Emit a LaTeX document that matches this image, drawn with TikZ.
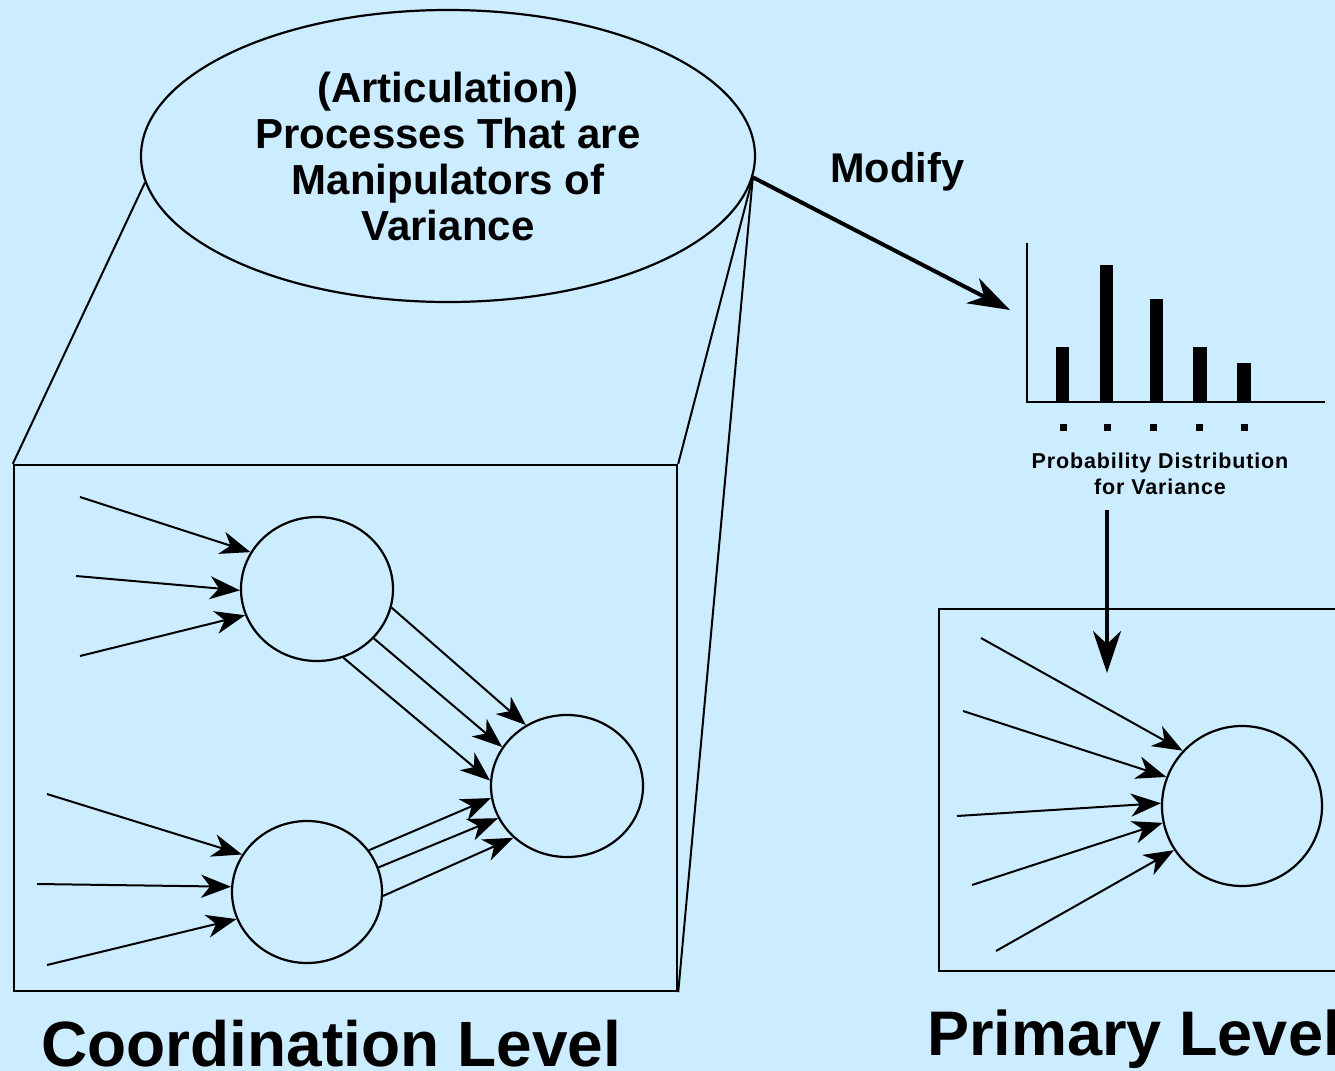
\documentclass[tikz,border=0pt]{standalone}
\usepackage{fontspec}
\setmainfont{Liberation Sans}
\usetikzlibrary{arrows.meta,shapes.geometric}
\definecolor{bgblue}{RGB}{204,236,255}

\begin{document}
\begin{tikzpicture}[x=0.5pt,y=-0.5pt,
  thinline/.style={line width=1pt},
  tipline/.style={line width=1pt,-{Stealth[length=15pt,width=11.5pt,inset=4.5pt]}},
  bigarrow/.style={line width=2pt,-{Stealth[length=21pt,width=14pt,inset=6.5pt]}},
  unit/.style={draw, ellipse, line width=1.1pt, inner sep=0pt,
    minimum width=76pt, minimum height=72pt},
  levelbox/.style={draw, rectangle, line width=1.2pt, inner sep=0pt},
  label/.style={inner sep=0pt, font=\bfseries}
]
% canvas
\useasboundingbox (0,0) rectangle (1335,1071);
\fill[bgblue] (0,0) rectangle (1335,1071);

% articulation processes
\node[draw, ellipse, line width=1.1pt, inner sep=0pt,
      minimum width=307pt, minimum height=146pt, align=center,
      font=\fontsize{21pt}{23pt}\selectfont\bfseries] (E) at (448,156)
  {(Articulation)\\Processes That are\\Manipulators of\\Variance};

% coordination level
\node[levelbox, minimum width=331.5pt, minimum height=263pt] (cbox) at (345.5,728) {};
\node[unit] (c1) at (317,589) {};
\node[unit, minimum width=76pt, minimum height=71pt] (c2) at (567,786) {};
\node[unit, minimum width=75pt, minimum height=71pt] (c3) at (307,892) {};

\draw[thinline] (E.185) -- (cbox.north west);
\draw[thinline] (E.-4) -- (cbox.north east);
\draw[thinline] (E.-4) -- (cbox.south east);

% inputs of the upper unit
\coordinate (a1) at (80,497);
\coordinate (a2) at (76,576);
\coordinate (a3) at (80,656);
\draw[tipline] (a1) -- (c1.151);
\draw[tipline] (a2) -- (c1.181);
\draw[tipline] (a3) -- (c1.200);

% inputs of the lower unit
\coordinate (b1) at (47,794);
\coordinate (b2) at (37,884);
\coordinate (b3) at (47,965);
\draw[tipline] (b1) -- (c3.150);
\draw[tipline] (b2) -- (c3.176);
\draw[tipline] (b3) -- (c3.201);

% upper unit to output unit
\draw[tipline] (c1.-14) -- (c2.124);
\draw[tipline] (c1.-41) -- (c2.149);
\draw[tipline] (c1.-69) -- (c2.176);

% lower unit to output unit
\draw[tipline] (c3.34) -- (c2.189);
\draw[tipline] (c3.19) -- (c2.205);
\draw[tipline] (c3.-3) -- (c2.224);

\node[label, anchor=base west, font=\fontsize{32pt}{36pt}\selectfont\bfseries]
  (coord) at (41,1066) {Coordination Level};

% modify arrow
\node[label, anchor=base west, font=\fontsize{20.75pt}{23pt}\selectfont\bfseries]
  (mod) at (830,182) {Modify};
\coordinate (histin) at (1010,310);
\draw[bigarrow] (E.-4) -- (histin);

% probability distribution
\draw[line width=0.8pt] (1027,243) -- (1027,402) -- (1325,402);
\foreach \xl/\xr/\top in {1056/1069/347, 1100/1113/265, 1150/1163/299, 1193/1207/347, 1237/1251/363}
  \fill[black] (\xl,\top) rectangle (\xr,402);
\foreach \xc in {1063,1107,1153,1199,1244}
  \fill[black] (\xc-3.5,424) rectangle (\xc+3.5,431);
\node[label, anchor=base, font=\fontsize{10.75pt}{12.5pt}\selectfont\bfseries\addfontfeature{LetterSpace=4}]
  (pd1) at (1160,468) {Probability Distribution};
\node[label, anchor=base, font=\fontsize{10.75pt}{12.5pt}\selectfont\bfseries\addfontfeature{LetterSpace=4}]
  (pd2) at (1160,494) {for Variance};

% primary level
\node[levelbox, minimum width=206pt, minimum height=181pt] (pbox) at (1145,790) {};
\node[unit, minimum width=80pt, minimum height=80pt] (p) at (1242,806) {};
\coordinate (pdtail) at (1107,510);
\coordinate (pdtip) at (1107,673);
\draw[bigarrow] (pdtail) -- (pdtip);

\coordinate (r1) at (981,638);
\coordinate (r2) at (963,711);
\coordinate (r3) at (957,816);
\coordinate (r4) at (972,885);
\coordinate (r5) at (996,951);
\draw[tipline] (r1) -- (p.137);
\draw[tipline] (r2) -- (p.159);
\draw[tipline] (r3) -- (p.178);
\draw[tipline] (r4) -- (p.192);
\draw[tipline] (r5) -- (p.213);

\node[label, anchor=base west, font=\fontsize{31.5pt}{36pt}\selectfont\bfseries]
  (prim) at (927,1055) {Primary Level};
\end{tikzpicture}
\end{document}
